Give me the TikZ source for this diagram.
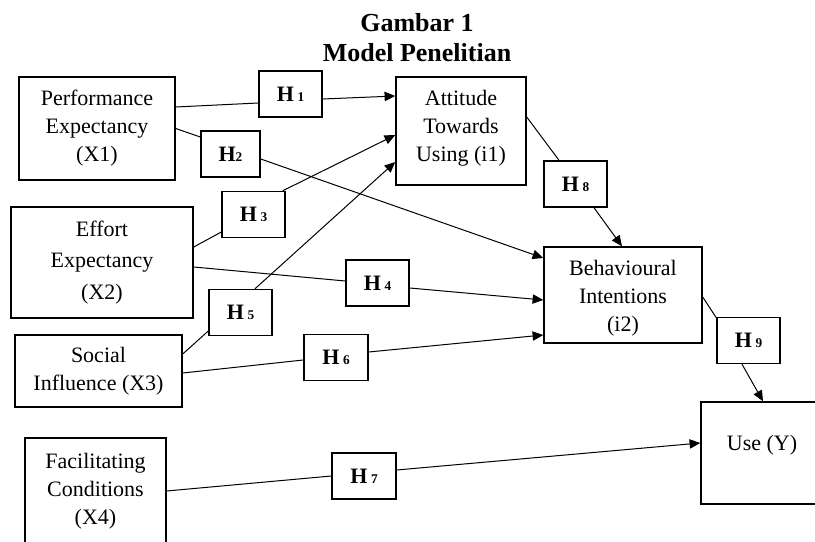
\documentclass[tikz,border=0pt]{standalone}
\usepackage{fontspec}
\setmainfont{Liberation Serif}
\usetikzlibrary{calc,arrows.meta}
\newcommand\hyplab[1]{H\,{\fontsize{10}{10}\selectfont #1}}
\begin{document}
\begin{tikzpicture}[x=0.75pt,y=-0.75pt,
 box/.style={draw,line width=1.1pt,inner sep=2pt,align=center,font=\fontsize{16.5}{21}\selectfont},
 hbox/.style={draw,line width=1.1pt,inner sep=0pt,minimum width=47.25pt,minimum height=34.5pt,font=\fontsize{16.5}{20}\selectfont\bfseries},
 ttl/.style={anchor=base,inner sep=0pt,font=\fontsize{19.5}{22}\selectfont\bfseries},
 conn/.style={line width=0.75pt},
 arr/.style={conn,-{Triangle[length=8pt,width=7pt]}}]
\useasboundingbox (0,0) rectangle (815,542);
\clip (0,0) rectangle (815,542);

% titles
\node[ttl] (t1) at (417,32) {Gambar 1};
\node[ttl] (t2) at (417,62) {Model Penelitian};

% main boxes
\node[box,minimum width=117pt,minimum height=77.25pt] (pe) at (97,128.5) {Performance\\Expectancy\\(X1)};
\node[box,minimum width=97.5pt,minimum height=81pt] (atu) at (461,131) {\raisebox{2pt}[\height][\depth]{\begin{tabular}{@{}c@{}}Attitude\\Towards\\Using (i1)\end{tabular}}};
\node[box,minimum width=118.5pt,minimum height=72pt] (bi) at (623,295) {\raisebox{-2pt}[\height][\depth]{\begin{tabular}{@{}c@{}}Behavioural\\Intentions\\(i2)\end{tabular}}};
\node[box,minimum width=91.5pt,minimum height=76.5pt] (use) at (762,453) {\raisebox{6pt}[\height][\depth]{Use (Y)}};
\node[box,minimum width=136.5pt,minimum height=83.25pt,font=\fontsize{16.5}{23.6}\selectfont] (ee) at (102,262.5) {Effort\\Expectancy\\(X2)};
\node[box,minimum width=125.25pt,minimum height=54pt] (si) at (98.5,371) {Social\\Influence (X3)};
\node[box,minimum width=105.75pt,minimum height=80.25pt] (fc) at (95.5,491.5) {Facilitating\\Conditions\\(X4)};

% hypothesis boxes
\node[hbox] (h1) at (290.5,94) {\hyplab{1}};
\node[hbox,minimum width=44.25pt] (h2) at (230.5,154) {H{\fontsize{10}{10}\selectfont 2}};
\node[hbox] (h3) at (253.5,214.5) {\hyplab{3}};
\node[hbox] (h4) at (377.5,283) {\hyplab{4}};
\node[hbox] (h5) at (240.5,312.5) {\hyplab{5}};
\node[hbox,minimum width=48pt] (h6) at (336,357.5) {\hyplab{6}};
\node[hbox,minimum width=48pt] (h7) at (364,476) {\hyplab{7}};
\node[hbox] (h8) at (575.5,184) {\hyplab{8}};
\node[hbox] (h9) at (748.5,340.5) {\hyplab{9}};

% connectors
\draw[conn] ($(pe.east)+(0,-21.5)$) -- ($(h1.west)+(0,9)$);
\draw[arr] ($(h1.east)+(0,5)$) -- ($(atu.west)+(0,-35)$);
\draw[conn] (pe.east) -- ($(h2.west)+(0,-17)$);
\draw[arr] ($(h2.east)+(0,5)$) -- ($(bi.west)+(0,-37)$);
\draw[conn] ($(ee.east)+(0,-15.5)$) -- ($(h3.west)+(0,17.5)$);
\draw[arr] ($(h3.north east)+(-3,0)$) -- ($(atu.west)+(0,4)$);
\draw[conn] ($(ee.east)+(0,4.5)$) -- ($(h4.west)+(0,-2)$);
\draw[arr] ($(h4.east)+(0,5)$) -- ($(bi.west)+(0,5)$);
\draw[conn] ($(si.east)+(0,-17)$) -- ($(h5.west)+(0,18.5)$);
\draw[arr] ($(h5.north)+(14.5,0)$) -- ($(atu.west)+(0,31)$);
\draw[conn] ($(si.east)+(0,2)$) -- ($(h6.west)+(0,2.5)$);
\draw[arr] ($(h6.east)+(0,-5.5)$) -- ($(bi.west)+(0,40)$);
\draw[conn] ($(fc.east)+(0,-0.5)$) -- (h7.west);
\draw[arr] ($(h7.east)+(0,-6)$) -- ($(use.west)+(0,-10)$);
\draw[conn] ($(atu.east)+(0,-14)$) -- ($(h8.north)+(-16.5,0)$);
\draw[arr] ($(h8.south)+(18.5,0)$) -- ($(bi.north)+(-1,0)$);
\draw[conn] ($(bi.east)+(0,2)$) -- ($(h9.north west)+(0,1)$);
\draw[arr] ($(h9.south)+(-6.5,0)$) -- ($(use.north)+(1,0)$);
\end{tikzpicture}
\end{document}
